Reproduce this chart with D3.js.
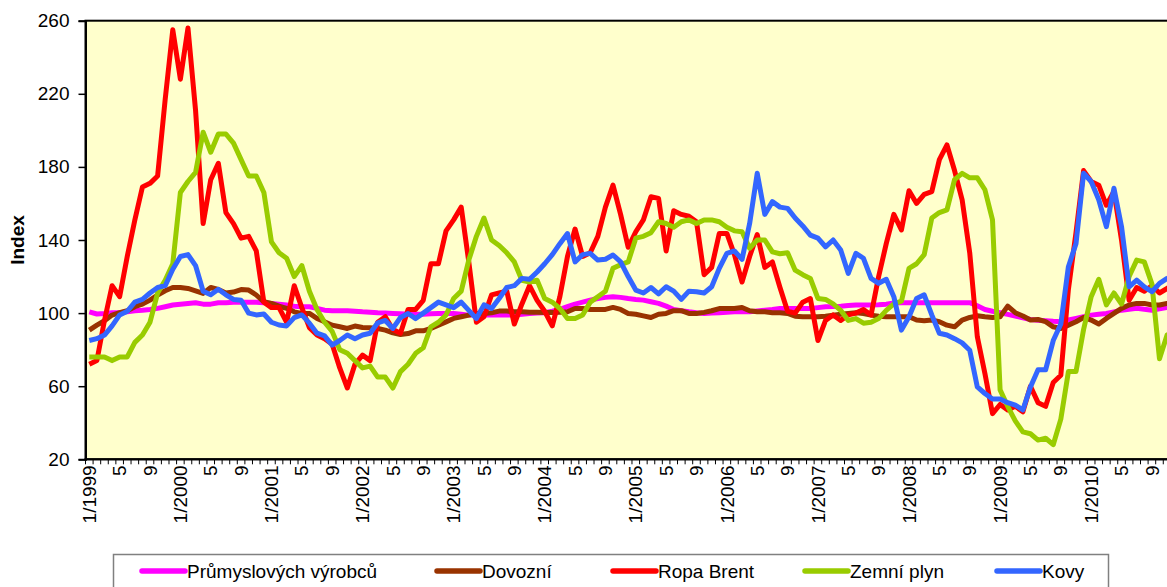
<!DOCTYPE html>
<html>
<head>
<meta charset="utf-8">
<script src="https://cdn.jsdelivr.net/npm/d3@7/dist/d3.min.js"></script>
<style>
  body { margin: 0; background: #fff; }
  svg { display: block; font-family: "Liberation Sans", Arial, sans-serif; }
</style>
</head>
<body>
<svg id="chart" width="1167" height="587"></svg>
<script>
/* months 1/1999 .. 12/2010 */
var years = d3.range(1999, 2011);
var months = [];
years.forEach(function(y) { for (var m = 1; m <= 12; m++) months.push({ y: y, m: m }); });

var yTicks = [20, 60, 100, 140, 180, 220, 260];

var seriesNames = ["Průmyslových výrobců", "Dovozní", "Ropa Brent", "Zemní plyn", "Kovy"];
var seriesColors = ["#ff00ff", "#993300", "#ff0000", "#99cc00", "#3366ff"];

var vyrobcu = [
  100.7, 99.5, 99.8, 100.2, 100.2, 100.7, 101.3, 101.6, 102, 102.6, 103.5, 104.4,
  104.9, 105.3, 105.7, 104.9, 104.9, 105.7, 105.7, 106, 106, 106, 106, 105.7,
  105.3, 104.9, 104.4, 103.8, 103.5, 103.5, 102.6, 101.6, 101.3, 101.3, 101.3, 101,
  100.7, 100.5, 100.2, 100, 99.8, 99.6, 99.4, 99.4, 99.4, 99.6, 99.8, 99.8,
  99.8, 99.4, 98.9, 98.9, 98.9, 98.9, 98.9, 98.9, 98.9, 99.4, 99.8, 100,
  100.2, 101, 102, 103.5, 104.9, 106, 107.1, 108, 108.6, 109, 108.6, 108,
  107.5, 107.1, 106.2, 105.3, 103.8, 102, 101.3, 100.7, 100.2, 99.8, 100, 100.2,
  100.5, 100.7, 100.7, 100.7, 101.2, 101.6, 102, 102.5, 102.5, 102.5, 102.5, 102.5,
  103, 103.5, 103.6, 103.8, 104.1, 104.4, 104.4, 104.4, 104.6, 104.9, 105.5, 105.7,
  105.7, 105.7, 105.7, 105.7, 105.7, 105.7, 105.7, 105.7, 105.7, 104, 102, 101,
  100.2, 99.3, 98.4, 97.4, 96.5, 96.1, 95.8, 95.5, 95.3, 96.2, 97.1, 98,
  98.9, 99.4, 99.8, 100.7, 101.6, 102.1, 102.6, 102.1, 101.6, 102.4, 103.1, 103.1
];
var dovozni = [
  90.7, 93.4, 95.8, 98.9, 100.2, 101.3, 103.5, 104.9, 107.1, 109.9, 112.2, 114,
  114, 113.5, 112.2, 110.8, 114, 112.9, 111, 111.5, 112.9, 112.6, 109.9, 106.2,
  105.3, 103.8, 102.6, 100.7, 99.8, 99.8, 97.1, 95.3, 93.4, 92.5, 91.6, 92.9,
  92.1, 92, 91.6, 90.7, 89.2, 88.3, 88.8, 90.3, 90.3, 91.6, 93.4, 95.2,
  97.1, 98, 98.9, 99.8, 99.8, 100.2, 101.1, 101.1, 100.7, 100.7, 100.5, 100.5,
  100.3, 100.3, 100.5, 100.7, 102.5, 102.5, 102, 102, 102, 103.1, 102, 99.8,
  99.4, 98.5, 97.6, 99.4, 99.8, 101.3, 101.3, 99.8, 99.8, 100.4, 101.3, 102.5,
  102.5, 102.5, 103.1, 101.3, 100.7, 100.7, 100.2, 100.2, 99.8, 98.3, 98, 98,
  98, 98.3, 98.9, 99.4, 99.8, 100.2, 99.8, 98.9, 98.3, 98, 98, 98,
  98, 96.2, 95.8, 96.2, 95.3, 93.4, 92.5, 96.2, 97.6, 98.5, 98, 97.6,
  98, 103.8, 100.2, 98.4, 96.2, 96.5, 95.3, 92.5, 91.6, 93.4, 95.3, 97.6,
  96.2, 94, 97.1, 99.8, 102.6, 104.4, 105.3, 105.3, 104.4, 104.4, 105.3, 105.5
];
var ropaBrent = [
  72, 74, 96, 115, 109, 131, 151, 169, 171, 175, 217, 255,
  228, 256, 211, 149, 173, 182, 155, 149, 141, 142, 134, 106,
  103, 103, 95, 115, 103, 92, 88, 86, 83, 70, 59, 72,
  77, 74, 95, 98, 91, 89, 102, 102, 107, 127, 127, 145,
  151, 158, 128, 95, 98, 110, 111, 112, 94, 105, 115, 107,
  101, 93, 109, 131, 146, 131, 133, 142, 158, 170, 154, 136,
  144.5, 151, 163.7, 162.8, 134, 156, 154, 153, 150, 121, 125, 143.6,
  143.6, 132, 117, 131, 143, 125, 128, 114, 101, 100, 106, 108,
  85, 96, 99, 96, 99, 100, 102, 99, 120, 138, 154, 145.5,
  167, 160, 165, 166.5, 184, 192, 178, 162, 133, 87, 67, 45,
  50, 47, 49, 46, 60, 51, 49, 62, 66, 113, 144, 178,
  172, 170, 159, 166.5, 140, 107, 114, 112, 115, 111, 113.5, 116
];
var zemniPlyn = [
  76, 76, 76, 74, 76, 76, 84, 88, 95, 111, 118, 127,
  166, 172, 177, 199, 188, 198, 198, 193, 184, 175, 175, 166,
  139, 133, 130, 120, 126, 112, 102, 95, 90, 80, 78, 74,
  70, 71, 65, 65, 59, 68, 72, 78, 81, 92.5, 95, 99,
  108, 112, 129, 142, 152, 140, 137, 133, 128, 118, 117, 118,
  108, 106, 102.5, 97, 97, 99, 106, 109, 112, 124.5, 126.5, 128,
  141, 142, 144, 150, 149, 147, 150, 151, 149, 151, 151, 150,
  147, 145, 144.5, 135.5, 140, 140, 133.5, 132.5, 133, 123.5, 121, 119,
  108, 107.5, 105, 101.5, 96, 97, 94.5, 95, 97, 101.5, 105, 106.5,
  124.5, 127, 132, 152, 155, 156.5, 173, 176.5, 174, 174, 167.5, 151,
  58, 49, 41, 35, 34, 30.5, 31.5, 28, 42, 68, 68, 91,
  109, 118.5, 104.5, 111, 105, 120, 129, 128, 116, 75, 88, 90
];
var kovy = [
  85, 86, 88, 93, 99, 101, 106, 107.5, 111, 114, 115, 124,
  131, 132, 126, 112, 110, 113, 110, 107.5, 107, 100, 99, 99.5,
  95, 93.5, 93, 97.5, 99, 94.5, 89, 87.5, 82.5, 85, 88, 86,
  88, 89, 94.7, 96, 91.6, 97.6, 99.8, 97, 100, 103, 106, 104.5,
  103, 106, 101.5, 97, 104.5, 102.5, 108, 114, 115, 119, 118.5, 122.5,
  127, 132, 138, 143.5, 128, 132, 132.7, 129, 129.5, 131.8, 128, 120,
  112.6, 111, 114, 110.5, 114.4, 112, 107.5, 112, 111.7, 111, 114.4, 124.5,
  132.7, 134, 129.4, 149, 176.5, 154, 161, 158, 157.3, 152, 147.7, 142.7,
  141, 136.3, 140, 134.5, 121.7, 132.7, 130, 119, 116.3, 118.5, 109, 90.7,
  98, 108, 110, 99, 89, 88, 86, 83.7, 79.7, 59.6, 56, 53,
  53, 51, 49.6, 47, 59.6, 69, 69, 85, 94, 125.4, 138, 176.5,
  172, 162, 147.3, 168.3, 147.3, 114.4, 118, 114.4, 111.7, 116.3, 119, 120
];

var seriesValues = [vyrobcu, dovozni, ropaBrent, zemniPlyn, kovy];

/* layout */
var plot = { left: 85.5, top: 20.7, bottom: 459.3, band: 7.59 };
plot.right = plot.left + months.length * plot.band;
var fontSize = 19;
var lineWidth = 5;

var svg = d3.select("#chart");

var x = d3.scaleBand().domain(d3.range(months.length)).range([plot.left, plot.right]).padding(0);
var y = d3.scaleLinear().domain([20, 260]).range([plot.bottom, plot.top]);

// plot background
svg.append("rect")
  .attr("x", plot.left).attr("y", plot.top)
  .attr("width", plot.right - plot.left).attr("height", plot.bottom - plot.top)
  .attr("fill", "#ffffcc").attr("stroke", "#000").attr("stroke-width", 2);

// series lines
var line = d3.line()
  .x(function(d, i) { return x(i) + x.bandwidth() / 2; })
  .y(function(d) { return y(d); });

svg.append("g").attr("class", "series")
  .selectAll("path").data(seriesValues).enter().append("path")
  .attr("d", line)
  .attr("fill", "none")
  .attr("stroke", function(d, i) { return seriesColors[i]; })
  .attr("stroke-width", lineWidth)
  .attr("stroke-linejoin", "round");

// y axis
var yAxis = svg.append("g").attr("transform", "translate(" + plot.left + ",0)")
  .call(d3.axisLeft(y).tickValues(yTicks).tickSize(7).tickPadding(9));
yAxis.attr("font-family", null).attr("font-size", null);
yAxis.select(".domain").attr("stroke", "#000").attr("stroke-width", 2);
yAxis.selectAll(".tick line").attr("stroke", "#000").attr("stroke-width", 1.5);
yAxis.selectAll("text").attr("font-size", fontSize).attr("fill", "#000");

// x axis: labels every 4th month, tick marks between every month
var xAxis = svg.append("g").attr("transform", "translate(0," + plot.bottom + ")")
  .call(d3.axisBottom(x)
    .tickValues(d3.range(0, months.length, 4))
    .tickSize(0)
    .tickFormat(function(i) { var d = months[i]; return d.m == 1 ? "1/" + d.y : String(d.m); }));
xAxis.attr("font-family", null).attr("font-size", null);
xAxis.select(".domain").remove();
xAxis.selectAll("text")
  .attr("font-size", fontSize).attr("fill", "#000")
  .attr("text-anchor", "end")
  .attr("transform", "rotate(-90)")
  .attr("x", -6).attr("y", 0).attr("dy", "0.35em");

svg.append("g").attr("class", "minor")
  .selectAll("line").data(d3.range(months.length + 1)).enter().append("line")
  .attr("x1", function(i) { return plot.left + i * x.bandwidth(); })
  .attr("x2", function(i) { return plot.left + i * x.bandwidth(); })
  .attr("y1", plot.bottom).attr("y2", plot.bottom + 5)
  .attr("stroke", "#000").attr("stroke-width", 1);

svg.append("line")
  .attr("x1", plot.left - 1).attr("x2", plot.right)
  .attr("y1", plot.bottom).attr("y2", plot.bottom)
  .attr("stroke", "#000").attr("stroke-width", 2);

// y title
svg.append("text")
  .attr("transform", "translate(24,240) rotate(-90)")
  .attr("text-anchor", "middle")
  .attr("font-size", fontSize).attr("font-weight", "bold")
  .text("Index");

// legend
var legendX = [142, 437, 613, 805, 997];
svg.append("rect")
  .attr("x", 113.5).attr("y", 554.5).attr("width", 995).attr("height", 60)
  .attr("fill", "#fff").attr("stroke", "#808080").attr("stroke-width", 1.5);

var items = svg.append("g").attr("class", "legend")
  .selectAll("g").data(seriesNames).enter().append("g")
  .attr("transform", function(d, i) { return "translate(" + legendX[i] + ",0)"; });
items.append("line")
  .attr("x1", 0).attr("x2", 43).attr("y1", 571).attr("y2", 571)
  .attr("stroke", function(d, i) { return seriesColors[i]; })
  .attr("stroke-width", 5.5).attr("stroke-linecap", "round");
items.append("text")
  .attr("x", 45).attr("y", 578)
  .attr("font-size", fontSize).attr("fill", "#000")
  .text(function(d) { return d; });
</script>
</body>
</html>
